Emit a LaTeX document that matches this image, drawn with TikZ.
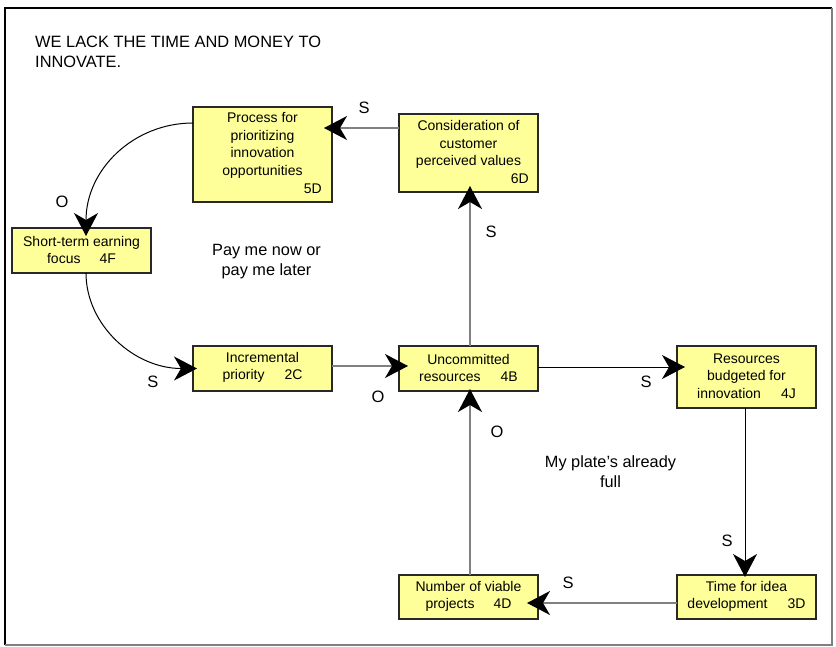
\documentclass[tikz,border=0pt]{standalone}
\usepackage{fontspec}
\setmainfont{Liberation Sans}
\usetikzlibrary{arrows.meta}
\definecolor{boxfill}{RGB}{255,255,153}
\definecolor{linkgray}{RGB}{128,128,128}
\definecolor{boxline}{RGB}{40,40,40}
\begin{document}
\begin{tikzpicture}[x=1pt,y=-1pt,
  box/.style={draw=boxline, line width=1.2pt, fill=boxfill, inner sep=0pt, outer sep=0pt, rectangle, minimum width=139pt},
  btext/.style={align=center, inner sep=0pt, font=\fontsize{14}{17.5}\selectfont},
  idtext/.style={anchor=east, inner sep=0pt, font=\fontsize{14}{17}\selectfont},
  polarity/.style={inner sep=0pt, font=\fontsize{16.5}{18}\selectfont},
  note/.style={align=center, inner sep=0pt, font=\fontsize{16.3}{19.5}\selectfont},
  tip/.style={-{Stealth[length=23pt,width=24pt,inset=7pt,color=black]}},
  graylink/.style={tip, draw=linkgray, line width=1.5pt},
  blacklink/.style={tip, draw=black, line width=1pt},
]
\useasboundingbox (0,0) rectangle (836,646);

% outer frame
\draw[black, line width=1.5pt] (5,645) -- (5,8) -- (832,8);
\draw[linkgray, line width=1.5pt] (832,8) -- (832,645) -- (5,645);

% variables of the loop
\node[box, minimum height=95pt] (5D) at (262.5,154.5) {};
\node[box, minimum height=78pt] (6D) at (468.5,153) {};
\node[box, minimum height=45pt] (4F) at (81.5,250.5) {};
\node[box, minimum height=45pt] (2C) at (262.5,368.5) {};
\node[box, minimum height=45pt] (4B) at (468.5,368.5) {};
\node[box, minimum height=62pt] (4J) at (746.5,377) {};
\node[box, minimum height=44pt] (4D) at (468.5,597) {};
\node[box, minimum height=44pt] (3D) at (746.5,597) {};

% causal links
\draw[graylink, shorten >=-8pt] ([yshift=25pt]6D.west) -- ([yshift=25pt]6D.west -| 5D.east);
\draw[blacklink, shorten >=-8pt] ([yshift=31.5pt]5D.west) .. controls +(-59,0) and +(0,-59) .. ([xshift=4.5pt]4F.north);
\draw[blacklink, shorten >=-4pt] ([xshift=4.5pt]4F.south) .. controls +(0,52) and +(-59,0) .. (2C.west);
\draw[graylink, shorten >=-9pt] ([yshift=2.5pt]2C.east) -- ([yshift=2.5pt]2C.east -| 4B.west);
\draw[graylink, shorten >=-6pt] ([xshift=1.5pt]4B.north) -- ([xshift=1.5pt]4B.north |- 6D.south);
\draw[blacklink, shorten >=-8pt] ([yshift=1.5pt]4B.east) -- ([yshift=1.5pt]4B.east -| 4J.west);
\draw[blacklink, shorten >=-2pt] ([xshift=-1.5pt]4J.south) -- ([xshift=-1.5pt]4J.south |- 3D.north);
\draw[graylink, shorten >=-11pt] ([yshift=-6pt]3D.west) -- ([yshift=-6pt]3D.west -| 4D.east);
\draw[graylink, shorten >=-2pt] ([xshift=1.5pt]4D.north) -- ([xshift=1.5pt]4D.north |- 4B.south);

% box texts
\node[btext] (5Dt) at (262.5,145.5) {Process for\\prioritizing\\innovation\\opportunities};
\node[idtext] (5Did) at (322,189) {5D};
\node[btext] (6Dt) at (468.5,144.5) {Consideration of\\customer\\perceived values};
\node[idtext] (6Did) at (529,179) {6D};
\node[btext] (4Ft) at (81.5,250) {Short-term earning\\focus\hspace{19pt}4F};
\node[btext] (2Ct) at (262.5,367.5) {Incremental\\priority\hspace{20pt}2C};
\node[btext] (4Bt) at (468.5,368) {Uncommitted\\resources\hspace{20pt}4B};
\node[btext] (4Jt) at (746.5,376) {Resources\\budgeted for\\innovation\hspace{20pt}4J};
\node[btext] (4Dt) at (468.5,596.5) {Number of viable\\projects\hspace{19pt}4D};
\node[btext] (3Dt) at (746.5,596.5) {Time for idea\\development\hspace{20pt}3D};

% link polarities
\node[polarity] (p1) at (364,108) {S};
\node[polarity] (p2) at (62,202) {O};
\node[polarity] (p3) at (491,232) {S};
\node[polarity] (p4) at (153,382) {S};
\node[polarity] (p5) at (378,397) {O};
\node[polarity] (p6) at (646,382) {S};
\node[polarity] (p7) at (497,432) {O};
\node[polarity] (p8) at (727,541) {S};
\node[polarity] (p9) at (568,583) {S};

% title and loop notes
\node[anchor=west, align=left, inner sep=0pt, font=\fontsize{16.4}{20}\selectfont] (title) at (35,52) {WE LACK THE TIME AND MONEY TO\\INNOVATE.};
\node[note] (n1) at (266.5,261.5) {Pay me now or\\pay me later};
\node[note] (n2) at (610.5,471.5) {My plate’s already\\full};
\end{tikzpicture}
\end{document}
